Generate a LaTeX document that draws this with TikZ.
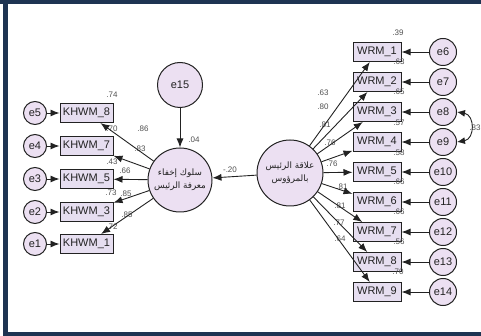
\documentclass[tikz,border=0pt]{standalone}
\usepackage{fontspec}
\setmainfont{Liberation Sans}
\newfontfamily\arabicfont[Script=Arabic]{DejaVu Sans}
\TeXXeTstate=1
\usetikzlibrary{arrows.meta}
\definecolor{linec}{HTML}{222222}
\definecolor{boxfill}{HTML}{E6DEF0}
\definecolor{circfill}{HTML}{ECE0F2}
\definecolor{framec}{HTML}{1E3452}
\definecolor{valc}{HTML}{505050}
\begin{document}
\begin{tikzpicture}[x=1pt,y=-1pt,
  obs/.style={draw=linec, fill=boxfill, line width=1pt, inner sep=0pt,
    minimum height=19pt, text=linec, font=\fontsize{11}{13}\selectfont},
  kbox/.style={obs, minimum width=53pt},
  wbox/.style={obs, minimum width=48pt},
  errc/.style={circle, draw=linec, fill=circfill, line width=1pt, inner sep=0pt,
    text=linec, font=\fontsize{11}{13}\selectfont},
  lerr/.style={errc, minimum size=23pt},
  rerr/.style={errc, minimum size=27pt},
  latc/.style={circle, draw=linec, fill=circfill, line width=1pt, inner sep=0pt,
    align=center, text=linec, font=\arabicfont\fontsize{8.8}{13}\selectfont},
  val/.style={inner sep=0pt, text=valc, font=\fontsize{8}{9}\selectfont},
  arr/.style={draw=linec, line width=0.9pt, -{Latex[length=9pt,width=7pt]}},
  darr/.style={draw=linec, line width=0.9pt, {Latex[length=8pt,width=7pt]}-{Latex[length=8pt,width=7pt]}}
]
\useasboundingbox (0,0) rectangle (481,336);
% frame
\fill[framec] (0,0) rectangle (481,4);
\fill[framec] (3,0) rectangle (8,336);
\fill[framec] (3,332) rectangle (481,336);

% latent variables
\node[latc, minimum size=64pt] (lat1) at (180,180) {\beginR سلوك إخفاء\endR\\\beginR معرفة الرئيس\endR};
\node[latc, minimum size=66pt] (lat2) at (290,173) {\beginR علاقة الرئيس\endR\\\beginR بالمرؤوس\endR};
\node[errc, minimum size=45pt] (e15) at (180,85) {e15};

% left indicators
\node[kbox] (k8) at (86.5,113) {KHWM\_8};
\node[kbox] (k7) at (86.5,146) {KHWM\_7};
\node[kbox] (k5) at (86.5,179) {KHWM\_5};
\node[kbox] (k3) at (86.5,212) {KHWM\_3};
\node[kbox] (k1) at (86.5,244) {KHWM\_1};
\node[lerr] (e5) at (35,113) {e5};
\node[lerr] (e4) at (35,146) {e4};
\node[lerr] (e3) at (35,179) {e3};
\node[lerr] (e2) at (35,212) {e2};
\node[lerr] (e1) at (35,244) {e1};

% right indicators
\node[wbox] (w1) at (377,52) {WRM\_1};
\node[wbox] (w2) at (377,82) {WRM\_2};
\node[wbox] (w3) at (377,112) {WRM\_3};
\node[wbox] (w4) at (377,142) {WRM\_4};
\node[wbox] (w5) at (377,172) {WRM\_5};
\node[wbox] (w6) at (377,202) {WRM\_6};
\node[wbox] (w7) at (377,232) {WRM\_7};
\node[wbox] (w8) at (377,262) {WRM\_8};
\node[wbox] (w9) at (377,292) {WRM\_9};
\node[rerr] (e6) at (443,52) {e6};
\node[rerr] (e7) at (443,82) {e7};
\node[rerr] (e8) at (443,112) {e8};
\node[rerr] (e9) at (443,142) {e9};
\node[rerr] (e10) at (443,172) {e10};
\node[rerr] (e11) at (443,202) {e11};
\node[rerr] (e12) at (443,232) {e12};
\node[rerr] (e13) at (443,262) {e13};
\node[rerr] (e14) at (443,292) {e14};

% values: left
\node[val] (r8) at (112,95) {.74};
\node[val] (r7) at (112,129) {.70};
\node[val] (r5) at (112,162) {.43};
\node[val] (r3) at (111,193) {.73};
\node[val] (r1) at (112,227) {.72};
\node[val] (l8) at (143,129) {.86};
\node[val] (l7) at (140,149) {.83};
\node[val] (l5) at (125,171) {.66};
\node[val] (l3) at (126,194) {.85};
\node[val] (l1) at (127,215) {.85};
\node[val] (r15) at (194,140) {.04};
\node[val] (b21) at (230,170) {-.20};

% values: right
\node[val] (q1) at (398,33) {.39};
\node[val] (q2) at (399,62) {.63};
\node[val] (q3) at (399,92) {.65};
\node[val] (q4) at (399,123) {.57};
\node[val] (q5) at (399,153) {.58};
\node[val] (q6) at (399,182) {.66};
\node[val] (q7) at (399,212) {.66};
\node[val] (q8) at (399,242) {.56};
\node[val] (q9) at (398,272) {.70};
\node[val] (m1) at (323,93) {.63};
\node[val] (m2) at (323,107) {.80};
\node[val] (m3) at (325,125) {.81};
\node[val] (m4) at (330,143) {.76};
\node[val] (m5) at (332,164) {.76};
\node[val] (m6) at (342,187) {.81};
\node[val] (m7) at (340,206) {.81};
\node[val] (m8) at (339,223) {.77};
\node[val] (m9) at (340,239) {.64};
\node[val] (c89) at (475,128) {.33};

% arrows: left
\foreach \e/\k in {e5/k8,e4/k7,e3/k5,e2/k3,e1/k1}{\draw[arr] (\e) -- (\k);}
\foreach \k in {k8,k7,k5,k3,k1}{\draw[arr] (lat1) -- (\k);}
\draw[arr] (e15) -- (lat1);
\draw[arr] (lat2) -- (lat1);

% arrows: right
\foreach \w in {w1,w2,w3,w4,w5,w6,w7,w8,w9}{\draw[arr] (lat2) -- (\w);}
\foreach \e/\w in {e6/w1,e7/w2,e8/w3,e9/w4,e10/w5,e11/w6,e12/w7,e13/w8,e14/w9}{\draw[arr] (\e) -- (\w);}
\draw[darr] (e8.east) .. controls +(18,3) and +(18,-3) .. (e9.east);
\end{tikzpicture}
\end{document}
